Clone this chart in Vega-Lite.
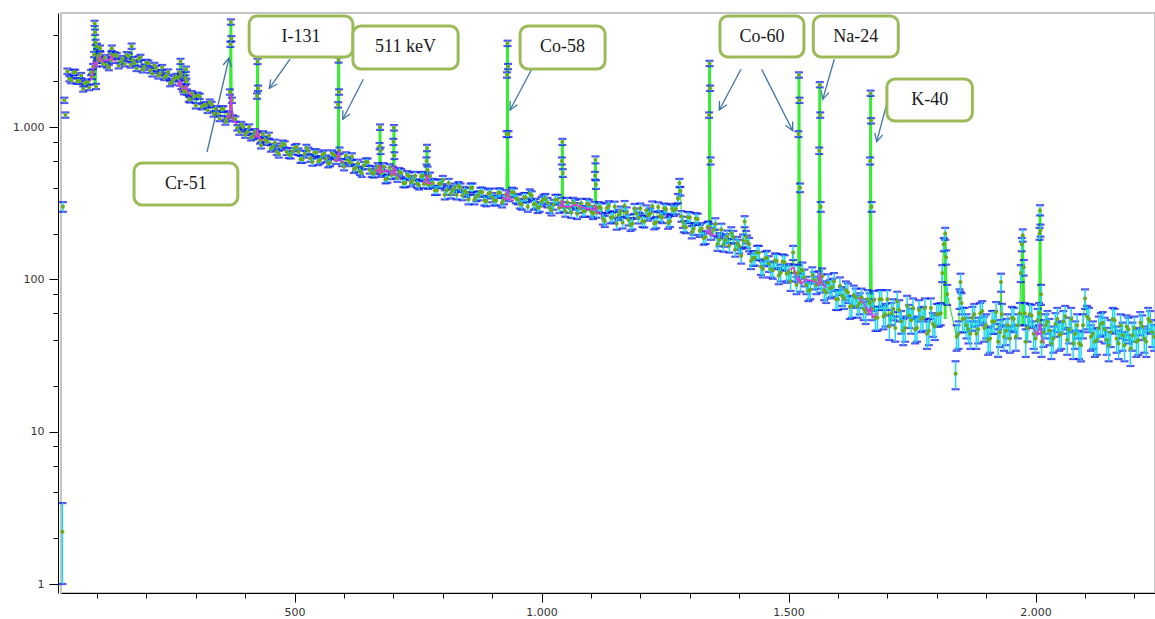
{
"$schema": "https://vega.github.io/schema/vega-lite/v6.json",
"width": 1094,
"height": 580,
"autosize": "none",
"padding": {"left": 61, "top": 13, "right": 0, "bottom": 26},
"background": "white",
"config": {"view": {"stroke": "#C4C4C4", "strokeWidth": 2}},
"datasets": {
"spec": [
{"c":30,"n":2.2,"e":1.2},{"c":31,"n":300,"e":22},{"c":34,"n":1500,"e":60},{"c":36,"n":1200,"e":48},
{"c":40,"n":2330,"e":93},{"c":48,"n":2020,"e":81},{"c":56,"n":2290,"e":92},{"c":64,"n":2010,"e":80},{"c":72,"n":1780,"e":71},{"c":80,"n":1980,"e":79},{"c":88,"n":2280,"e":91},
{"c":90,"n":2150,"e":86},{"c":92,"n":2500,"e":100},{"c":94,"n":3000,"e":120},{"c":95,"n":4800,"e":192},{"c":96,"n":4200,"e":168},{"c":97,"n":3600,"e":144},{"c":98,"n":1850,"e":74},{"c":99,"n":2600,"e":104},{"c":100,"n":3400,"e":136},{"c":101,"n":2900,"e":116},{"c":102,"n":2750,"e":110},{"c":104,"n":2800,"e":112},{"c":106,"n":3300,"e":132},{"c":107,"n":3000,"e":120},{"c":108,"n":2750,"e":110},
{"c":112,"n":2610,"e":104},{"c":120,"n":2560,"e":102},{"c":128,"n":2750,"e":110},{"c":129,"n":3000,"e":120},{"c":130,"n":3300,"e":132},{"c":131,"n":2900,"e":116},{"c":136,"n":2980,"e":119},{"c":144,"n":2530,"e":101},{"c":152,"n":2820,"e":113},{"c":160,"n":2990,"e":120},{"c":168,"n":2560,"e":102},{"c":170,"n":3400,"e":136},{"c":176,"n":2640,"e":106},{"c":184,"n":2800,"e":112},{"c":192,"n":2380,"e":95},{"c":200,"n":2660,"e":106},{"c":208,"n":2360,"e":94},{"c":216,"n":2540,"e":102},{"c":224,"n":2170,"e":87},{"c":232,"n":2460,"e":98},{"c":240,"n":2180,"e":87},{"c":248,"n":1930,"e":77},{"c":256,"n":2070,"e":83},{"c":264,"n":2110,"e":84},
{"c":267,"n":1950,"e":78},{"c":268,"n":2300,"e":92},{"c":269,"n":2700,"e":108},{"c":270,"n":2200,"e":88},{"c":271,"n":1850,"e":74},{"c":276,"n":1710,"e":68},{"c":278,"n":1800,"e":72},{"c":279,"n":2100,"e":84},{"c":280,"n":2400,"e":96},{"c":281,"n":2000,"e":80},{"c":282,"n":1700,"e":68},
{"c":288,"n":1510,"e":60},{"c":296,"n":1590,"e":64},{"c":304,"n":1620,"e":65},{"c":312,"n":1360,"e":54},{"c":320,"n":1400,"e":56},{"c":328,"n":1460,"e":58},{"c":336,"n":1220,"e":49},{"c":344,"n":1230,"e":49},{"c":352,"n":1310,"e":52},{"c":360,"n":1080,"e":43},{"c":366,"n":1220,"e":49},
{"c":368,"n":1200,"e":48},{"c":369,"n":1700,"e":68},{"c":370,"n":3500,"e":140},{"c":371,"n":4900,"e":196},{"c":372,"n":3800,"e":152},{"c":373,"n":1500,"e":60},{"c":375,"n":1150,"e":46},
{"c":384,"n":990,"e":41},{"c":392,"n":1040,"e":42},{"c":400,"n":890,"e":39},{"c":408,"n":1000,"e":41},{"c":416,"n":870,"e":38},
{"c":423,"n":900,"e":39},{"c":424,"n":1600,"e":64},{"c":425,"n":2700,"e":108},{"c":426,"n":1800,"e":72},{"c":427,"n":880,"e":39},
{"c":432,"n":760,"e":36},{"c":440,"n":830,"e":37},{"c":448,"n":880,"e":39},{"c":456,"n":740,"e":35},{"c":464,"n":690,"e":34},{"c":472,"n":745,"e":35},{"c":480,"n":770,"e":36},{"c":488,"n":660,"e":33},{"c":496,"n":695,"e":34},{"c":504,"n":740,"e":35},{"c":512,"n":615,"e":32},{"c":520,"n":665,"e":34},{"c":528,"n":700,"e":34},{"c":536,"n":590,"e":32},{"c":544,"n":680,"e":34},{"c":552,"n":610,"e":32},{"c":560,"n":670,"e":34},{"c":568,"n":575,"e":31},{"c":576,"n":670,"e":34},{"c":584,"n":605,"e":32},
{"c":587,"n":640,"e":33},{"c":588,"n":1400,"e":56},{"c":589,"n":2760,"e":110},{"c":590,"n":1700,"e":68},{"c":591,"n":700,"e":34},
{"c":600,"n":550,"e":30},{"c":608,"n":605,"e":32},{"c":616,"n":640,"e":33},{"c":624,"n":540,"e":30},{"c":632,"n":515,"e":30},{"c":640,"n":560,"e":31},{"c":648,"n":590,"e":32},{"c":656,"n":500,"e":29},{"c":664,"n":520,"e":30},
{"c":671,"n":530,"e":30},{"c":672,"n":750,"e":36},{"c":673,"n":1000,"e":41},{"c":674,"n":700,"e":34},{"c":675,"n":500,"e":29},
{"c":680,"n":550,"e":30},{"c":688,"n":460,"e":28},{"c":696,"n":485,"e":29},
{"c":699,"n":520,"e":30},{"c":700,"n":800,"e":37},{"c":701,"n":990,"e":41},{"c":702,"n":650,"e":33},{"c":703,"n":490,"e":29},
{"c":712,"n":510,"e":29},{"c":720,"n":430,"e":27},{"c":728,"n":485,"e":29},{"c":736,"n":435,"e":27},{"c":744,"n":480,"e":28},{"c":752,"n":415,"e":26},{"c":760,"n":480,"e":28},
{"c":766,"n":450,"e":28},{"c":767,"n":600,"e":32},{"c":768,"n":730,"e":35},{"c":769,"n":520,"e":30},{"c":770,"n":420,"e":27},
{"c":776,"n":425,"e":27},{"c":784,"n":385,"e":26},{"c":792,"n":425,"e":27},{"c":800,"n":450,"e":28},{"c":808,"n":385,"e":26},{"c":816,"n":365,"e":25},{"c":824,"n":400,"e":26},{"c":832,"n":410,"e":26},{"c":840,"n":355,"e":24},{"c":848,"n":372,"e":25},{"c":856,"n":400,"e":26},{"c":864,"n":335,"e":24},{"c":872,"n":355,"e":24},{"c":880,"n":375,"e":25},{"c":888,"n":325,"e":23},{"c":896,"n":370,"e":25},{"c":904,"n":330,"e":24},{"c":912,"n":370,"e":25},{"c":920,"n":320,"e":23},
{"c":928,"n":360,"e":25},{"c":929,"n":900,"e":39},{"c":930,"n":2200,"e":88},{"c":931,"n":3550,"e":142},{"c":932,"n":2500,"e":100},{"c":933,"n":900,"e":39},{"c":934,"n":350,"e":24},
{"c":944,"n":370,"e":25},{"c":952,"n":335,"e":24},{"c":960,"n":310,"e":23},{"c":968,"n":345,"e":24},{"c":976,"n":365,"e":25},{"c":984,"n":310,"e":23},{"c":992,"n":295,"e":22},{"c":1000,"n":325,"e":23},{"c":1008,"n":340,"e":24},{"c":1016,"n":295,"e":22},{"c":1024,"n":310,"e":23},{"c":1032,"n":335,"e":24},
{"c":1040,"n":320,"e":23},{"c":1041,"n":600,"e":32},{"c":1042,"n":800,"e":37},{"c":1043,"n":500,"e":29},{"c":1044,"n":300,"e":22},
{"c":1048,"n":280,"e":22},{"c":1056,"n":295,"e":22},{"c":1064,"n":320,"e":23},{"c":1072,"n":270,"e":21},{"c":1080,"n":315,"e":23},{"c":1088,"n":280,"e":22},{"c":1096,"n":310,"e":23},{"c":1104,"n":270,"e":21},
{"c":1107,"n":300,"e":22},{"c":1108,"n":480,"e":28},{"c":1109,"n":610,"e":32},{"c":1110,"n":420,"e":27},{"c":1111,"n":275,"e":21},
{"c":1120,"n":294,"e":22},{"c":1128,"n":241,"e":20},{"c":1136,"n":303,"e":23},{"c":1144,"n":257,"e":21},{"c":1152,"n":232,"e":20},{"c":1160,"n":279,"e":22},{"c":1168,"n":304,"e":23},{"c":1176,"n":246,"e":20},{"c":1184,"n":233,"e":20},{"c":1192,"n":271,"e":21},{"c":1200,"n":293,"e":22},{"c":1208,"n":239,"e":20},{"c":1216,"n":264,"e":21},{"c":1224,"n":302,"e":23},{"c":1232,"n":237,"e":20},{"c":1240,"n":260,"e":21},{"c":1248,"n":293,"e":22},{"c":1256,"n":235,"e":20},{"c":1264,"n":291,"e":22},
{"c":1272,"n":290,"e":22},{"c":1276,"n":340,"e":24},{"c":1279,"n":430,"e":27},{"c":1281,"n":380,"e":25},{"c":1283,"n":260,"e":21},
{"c":1288,"n":223,"e":19},{"c":1296,"n":256,"e":21},{"c":1304,"n":205,"e":19},{"c":1312,"n":251,"e":21},{"c":1320,"n":209,"e":19},{"c":1328,"n":187,"e":18},{"c":1336,"n":220,"e":19},
{"c":1338,"n":220,"e":19},{"c":1339,"n":1200,"e":48},{"c":1340,"n":2620,"e":105},{"c":1341,"n":1800,"e":72},{"c":1342,"n":600,"e":32},{"c":1343,"n":200,"e":18},
{"c":1352,"n":232,"e":20},{"c":1360,"n":183,"e":18},{"c":1368,"n":169,"e":17},{"c":1376,"n":191,"e":18},{"c":1384,"n":202,"e":18},{"c":1392,"n":157,"e":16},{"c":1400,"n":165,"e":17},
{"c":1408,"n":180,"e":17},{"c":1411,"n":240,"e":20},{"c":1414,"n":190,"e":18},
{"c":1416,"n":177,"e":17},{"c":1424,"n":132,"e":15},{"c":1432,"n":138,"e":15},{"c":1440,"n":150,"e":16},{"c":1448,"n":117,"e":14},{"c":1456,"n":139,"e":15},{"c":1464,"n":117,"e":14},{"c":1472,"n":133,"e":15},{"c":1480,"n":106,"e":13},{"c":1488,"n":131,"e":15},{"c":1496,"n":109,"e":14},{"c":1504,"n":97,"e":13},{"c":1509,"n":150,"e":16},{"c":1512,"n":111,"e":14},
{"c":1519,"n":110,"e":14},{"c":1520,"n":900,"e":39},{"c":1521,"n":2200,"e":88},{"c":1522,"n":1500,"e":60},{"c":1523,"n":400,"e":26},{"c":1524,"n":96,"e":13},
{"c":1528,"n":115,"e":14},{"c":1536,"n":92,"e":12},{"c":1544,"n":86,"e":12},{"c":1552,"n":99,"e":13},
{"c":1561,"n":100,"e":13},{"c":1562,"n":700,"e":34},{"c":1563,"n":1900,"e":76},{"c":1564,"n":1200,"e":48},{"c":1565,"n":300,"e":22},{"c":1566,"n":95,"e":13},
{"c":1568,"n":105,"e":13},{"c":1576,"n":82,"e":12},{"c":1584,"n":87,"e":12},{"c":1592,"n":97,"e":13},{"c":1600,"n":74,"e":11},{"c":1608,"n":78,"e":11},{"c":1616,"n":85,"e":12},{"c":1624,"n":66,"e":11},{"c":1632,"n":79,"e":12},{"c":1640,"n":67,"e":11},{"c":1648,"n":76,"e":11},{"c":1656,"n":61,"e":10},
{"c":1664,"n":70,"e":11},{"c":1665,"n":600,"e":32},{"c":1666,"n":1670,"e":67},{"c":1667,"n":1100,"e":44},{"c":1668,"n":300,"e":22},{"c":1669,"n":64,"e":10},
{"c":1672,"n":73,"e":11},{"c":1680,"n":56,"e":10},{"c":1688,"n":74,"e":11},{"c":1696,"n":59,"e":10},{"c":1704,"n":49,"e":9},{"c":1712,"n":64,"e":10},{"c":1720,"n":72,"e":11},{"c":1728,"n":53,"e":9},{"c":1736,"n":48,"e":9},{"c":1744,"n":58,"e":10},{"c":1752,"n":65,"e":10},{"c":1760,"n":48,"e":9},{"c":1768,"n":55,"e":10},{"c":1776,"n":65,"e":10},{"c":1784,"n":46,"e":9},{"c":1792,"n":51,"e":9},{"c":1800,"n":59,"e":10},
{"c":1808,"n":60,"e":10},{"c":1811,"n":110,"e":14},{"c":1814,"n":170,"e":17},{"c":1817,"n":200,"e":18},{"c":1819,"n":140,"e":15},{"c":1821,"n":80,"e":12},
{"c":1838,"n":24,"e":5},{"c":1840,"n":42,"e":8},{"c":1846,"n":75,"e":11},{"c":1848,"n":96,"e":13},{"c":1850,"n":70,"e":11},
{"c":1856,"n":55,"e":10},{"c":1864,"n":47,"e":9},{"c":1872,"n":56,"e":10},{"c":1880,"n":44,"e":9},{"c":1888,"n":60,"e":10},{"c":1896,"n":48,"e":9},{"c":1904,"n":40,"e":8},{"c":1912,"n":53,"e":9},{"c":1920,"n":61,"e":10},{"c":1928,"n":45,"e":9},{"c":1930,"n":96,"e":13},{"c":1936,"n":42,"e":8},{"c":1944,"n":50,"e":9},{"c":1952,"n":56,"e":10},{"c":1960,"n":42,"e":8},
{"c":1968,"n":60,"e":10},{"c":1970,"n":110,"e":14},{"c":1972,"n":170,"e":17},{"c":1974,"n":195,"e":18},{"c":1976,"n":120,"e":14},{"c":1978,"n":60,"e":10},
{"c":1984,"n":48,"e":9},{"c":1992,"n":58,"e":10},{"c":2000,"n":41,"e":8},
{"c":2007,"n":60,"e":10},{"c":2008,"n":200,"e":18},{"c":2009,"n":285,"e":22},{"c":2010,"n":210,"e":19},{"c":2011,"n":80,"e":12},
{"c":2016,"n":45,"e":9},{"c":2024,"n":53,"e":9},{"c":2032,"n":38,"e":8},{"c":2040,"n":51,"e":9},{"c":2048,"n":43,"e":9},{"c":2056,"n":53,"e":9},{"c":2064,"n":40,"e":8},{"c":2072,"n":55,"e":10},{"c":2080,"n":44,"e":9},{"c":2088,"n":38,"e":8},{"c":2096,"n":50,"e":9},{"c":2100,"n":75,"e":11},{"c":2104,"n":57,"e":10},{"c":2112,"n":42,"e":8},{"c":2120,"n":39,"e":8},{"c":2128,"n":48,"e":9},{"c":2136,"n":52,"e":9},{"c":2144,"n":40,"e":8},{"c":2152,"n":45,"e":9},{"c":2160,"n":54,"e":10},{"c":2168,"n":38,"e":8},{"c":2176,"n":43,"e":9},{"c":2184,"n":49,"e":9},{"c":2192,"n":35,"e":8},{"c":2200,"n":48,"e":9},{"c":2208,"n":40,"e":8},{"c":2216,"n":49,"e":9},{"c":2224,"n":39,"e":8},{"c":2232,"n":53,"e":9},{"c":2240,"n":42,"e":8},
{"c":44,"n":2080,"e":83},{"c":52,"n":2280,"e":91},{"c":60,"n":2000,"e":80},{"c":68,"n":2180,"e":87},{"c":76,"n":1930,"e":77},{"c":84,"n":1820,"e":73},{"c":116,"n":2860,"e":114},{"c":124,"n":2460,"e":98},{"c":140,"n":2940,"e":118},{"c":148,"n":2700,"e":108},{"c":156,"n":2610,"e":104},{"c":164,"n":2930,"e":117},{"c":172,"n":2770,"e":111},{"c":180,"n":2430,"e":97},{"c":188,"n":2870,"e":115},{"c":196,"n":2480,"e":99},{"c":204,"n":2630,"e":105},{"c":212,"n":2240,"e":90},{"c":220,"n":2430,"e":97},{"c":228,"n":2270,"e":91},{"c":236,"n":2120,"e":85},{"c":244,"n":2300,"e":92},{"c":252,"n":1980,"e":79},{"c":260,"n":2150,"e":86},{"c":274,"n":1780,"e":71},{"c":286,"n":1530,"e":61},{"c":292,"n":1660,"e":66},{"c":300,"n":1380,"e":55},{"c":308,"n":1590,"e":64},{"c":316,"n":1390,"e":56},{"c":324,"n":1290,"e":52},{"c":332,"n":1410,"e":56},{"c":340,"n":1320,"e":53},{"c":348,"n":1140,"e":46},{"c":356,"n":1320,"e":53},{"c":362,"n":1130,"e":45},
{"c":380,"n":1130,"e":45},{"c":388,"n":930,"e":40},{"c":396,"n":1000,"e":41},{"c":404,"n":930,"e":40},{"c":412,"n":855,"e":38},{"c":420,"n":930,"e":40},{"c":430,"n":815,"e":37},{"c":436,"n":900,"e":39},{"c":444,"n":800,"e":37},{"c":452,"n":725,"e":35},{"c":460,"n":790,"e":37},{"c":468,"n":665,"e":34},{"c":476,"n":780,"e":36},{"c":484,"n":690,"e":34},{"c":492,"n":655,"e":33},{"c":500,"n":730,"e":35},{"c":508,"n":690,"e":34},{"c":516,"n":615,"e":32},{"c":524,"n":730,"e":35},{"c":532,"n":625,"e":33},{"c":540,"n":680,"e":34},{"c":548,"n":595,"e":32},{"c":556,"n":655,"e":33},{"c":564,"n":620,"e":32},{"c":572,"n":585,"e":31},{"c":580,"n":655,"e":33},{"c":596,"n":585,"e":31},{"c":604,"n":650,"e":33},{"c":612,"n":585,"e":31},{"c":620,"n":530,"e":30},{"c":628,"n":580,"e":31},{"c":636,"n":500,"e":29},{"c":644,"n":590,"e":32},{"c":652,"n":525,"e":30},{"c":660,"n":495,"e":29},{"c":668,"n":550,"e":30},{"c":678,"n":515,"e":30},{"c":684,"n":455,"e":28},{"c":692,"n":540,"e":30},
{"c":708,"n":465,"e":28},{"c":716,"n":500,"e":29},{"c":724,"n":430,"e":27},{"c":732,"n":475,"e":28},{"c":740,"n":450,"e":28},{"c":748,"n":425,"e":27},{"c":756,"n":475,"e":28},{"c":762,"n":425,"e":27},{"c":774,"n":475,"e":28},{"c":780,"n":430,"e":27},{"c":788,"n":385,"e":26},{"c":796,"n":425,"e":27},{"c":804,"n":360,"e":25},{"c":812,"n":430,"e":27},{"c":820,"n":385,"e":26},{"c":828,"n":360,"e":25},{"c":836,"n":400,"e":26},{"c":844,"n":380,"e":25},{"c":852,"n":335,"e":24},{"c":860,"n":400,"e":26},{"c":868,"n":350,"e":24},{"c":876,"n":375,"e":25},{"c":884,"n":330,"e":24},{"c":892,"n":365,"e":25},{"c":900,"n":345,"e":24},{"c":908,"n":330,"e":24},{"c":916,"n":370,"e":25},{"c":924,"n":335,"e":24},
{"c":940,"n":375,"e":25},{"c":948,"n":340,"e":24},{"c":956,"n":315,"e":23},{"c":964,"n":345,"e":24},{"c":972,"n":300,"e":22},{"c":980,"n":355,"e":24},{"c":988,"n":315,"e":23},{"c":996,"n":300,"e":22},{"c":1004,"n":335,"e":24},{"c":1012,"n":320,"e":23},{"c":1020,"n":285,"e":22},{"c":1028,"n":335,"e":24},{"c":1036,"n":295,"e":22},{"c":1052,"n":320,"e":23},{"c":1060,"n":275,"e":22},{"c":1068,"n":310,"e":23},{"c":1076,"n":295,"e":22},{"c":1084,"n":280,"e":22},{"c":1092,"n":315,"e":23},{"c":1100,"n":280,"e":22},{"c":1116,"n":300,"e":22},
{"c":1124,"n":250,"e":21},{"c":1132,"n":294,"e":22},{"c":1140,"n":254,"e":21},{"c":1148,"n":301,"e":23},{"c":1156,"n":266,"e":21},{"c":1164,"n":236,"e":20},{"c":1172,"n":275,"e":22},{"c":1180,"n":228,"e":20},{"c":1188,"n":291,"e":22},{"c":1196,"n":254,"e":21},{"c":1204,"n":241,"e":20},{"c":1212,"n":284,"e":22},{"c":1220,"n":272,"e":21},{"c":1228,"n":233,"e":20},{"c":1236,"n":299,"e":22},{"c":1244,"n":255,"e":21},{"c":1252,"n":289,"e":22},{"c":1260,"n":241,"e":20},{"c":1268,"n":283,"e":22},
{"c":1286,"n":238,"e":20},{"c":1292,"n":220,"e":19},{"c":1300,"n":255,"e":21},{"c":1308,"n":215,"e":19},{"c":1316,"n":249,"e":21},{"c":1324,"n":215,"e":19},{"c":1332,"n":189,"e":18},{"c":1348,"n":212,"e":19},{"c":1356,"n":171,"e":17},{"c":1364,"n":213,"e":19},{"c":1372,"n":181,"e":17},{"c":1380,"n":167,"e":17},{"c":1388,"n":190,"e":18},{"c":1396,"n":173,"e":17},{"c":1404,"n":143,"e":16},{"c":1420,"n":170,"e":17},{"c":1428,"n":138,"e":15},{"c":1436,"n":150,"e":16},{"c":1444,"n":121,"e":14},{"c":1452,"n":137,"e":15},{"c":1460,"n":127,"e":15},{"c":1468,"n":115,"e":14},{"c":1476,"n":132,"e":15},{"c":1484,"n":111,"e":14},{"c":1492,"n":129,"e":15},{"c":1500,"n":112,"e":14},{"c":1516,"n":92,"e":12},
{"c":1532,"n":103,"e":13},{"c":1540,"n":84,"e":12},{"c":1548,"n":107,"e":13},{"c":1556,"n":92,"e":12},{"c":1572,"n":85,"e":12},{"c":1580,"n":95,"e":13},{"c":1588,"n":89,"e":12},{"c":1596,"n":74,"e":11},{"c":1604,"n":91,"e":12},{"c":1612,"n":75,"e":11},{"c":1620,"n":82,"e":12},{"c":1628,"n":67,"e":11},{"c":1636,"n":76,"e":11},{"c":1644,"n":70,"e":11},{"c":1652,"n":64,"e":10},{"c":1660,"n":74,"e":11},
{"c":1676,"n":56,"e":10},{"c":1684,"n":74,"e":11},{"c":1692,"n":57,"e":10},{"c":1700,"n":74,"e":11},{"c":1708,"n":60,"e":10},{"c":1716,"n":48,"e":9},{"c":1724,"n":63,"e":10},{"c":1732,"n":46,"e":9},{"c":1740,"n":67,"e":11},{"c":1748,"n":54,"e":10},{"c":1756,"n":47,"e":9},{"c":1764,"n":63,"e":10},{"c":1772,"n":56,"e":10},{"c":1780,"n":44,"e":9},{"c":1788,"n":65,"e":10},{"c":1796,"n":49,"e":9},{"c":1804,"n":59,"e":10},
{"c":1844,"n":44,"e":9},{"c":1852,"n":55,"e":10},{"c":1860,"n":50,"e":9},{"c":1868,"n":44,"e":9},{"c":1876,"n":59,"e":10},{"c":1884,"n":47,"e":9},{"c":1892,"n":62,"e":10},{"c":1900,"n":50,"e":9},{"c":1908,"n":41,"e":8},{"c":1916,"n":53,"e":9},{"c":1924,"n":39,"e":8},{"c":1932,"n":59,"e":10},{"c":1940,"n":46,"e":9},{"c":1948,"n":41,"e":8},{"c":1956,"n":55,"e":10},{"c":1964,"n":50,"e":9},{"c":1980,"n":39,"e":8},{"c":1988,"n":59,"e":10},{"c":1996,"n":44,"e":9},{"c":2004,"n":54,"e":10},
{"c":2012,"n":39,"e":8},{"c":2020,"n":50,"e":9},{"c":2028,"n":46,"e":9},{"c":2036,"n":41,"e":8},{"c":2044,"n":55,"e":10},{"c":2052,"n":44,"e":9},{"c":2060,"n":57,"e":10},{"c":2068,"n":47,"e":9},{"c":2076,"n":38,"e":8},{"c":2084,"n":50,"e":9},{"c":2092,"n":37,"e":8},{"c":2108,"n":55,"e":10},{"c":2116,"n":44,"e":9},{"c":2124,"n":40,"e":8},{"c":2132,"n":51,"e":9},{"c":2140,"n":47,"e":9},{"c":2148,"n":37,"e":8},{"c":2156,"n":55,"e":10},{"c":2164,"n":41,"e":8},{"c":2172,"n":50,"e":9},{"c":2180,"n":37,"e":8},{"c":2188,"n":47,"e":9},{"c":2196,"n":43,"e":9},{"c":2204,"n":39,"e":8},{"c":2212,"n":52,"e":9},{"c":2220,"n":41,"e":8},{"c":2228,"n":55,"e":10},{"c":2236,"n":45,"e":9}
],
"peaks": [
{"c":96,"lo":1850,"hi":4800},{"c":129,"lo":2750,"hi":3300},{"c":269,"lo":1900,"hi":2700},{"c":280,"lo":1750,"hi":2400},{"c":371,"lo":1150,"hi":4900},{"c":425,"lo":880,"hi":2700},{"c":589,"lo":640,"hi":2760},{"c":673,"lo":520,"hi":1000},{"c":701,"lo":500,"hi":990},{"c":768,"lo":440,"hi":730},{"c":931,"lo":350,"hi":3550},{"c":1042,"lo":310,"hi":800},{"c":1109,"lo":285,"hi":610},{"c":1340,"lo":210,"hi":2620},{"c":1521,"lo":100,"hi":2200},{"c":1563,"lo":95,"hi":1900},{"c":1666,"lo":66,"hi":1670},{"c":1817,"lo":55,"hi":200},{"c":1974,"lo":50,"hi":195},{"c":2009,"lo":50,"hi":285}
],
"lines": [
{"c":96,"top":4500},{"c":106,"top":3300},{"c":129,"top":2800},{"c":268,"top":1900},{"c":280,"top":1750},{"c":371,"top":1650},{"c":425,"top":950},{"c":589,"top":750},{"c":673,"top":550},{"c":701,"top":530},{"c":768,"top":460},{"c":931,"top":900},{"c":1042,"top":320},{"c":1109,"top":300},{"c":1340,"top":820},{"c":1521,"top":800},{"c":1563,"top":700},{"c":1666,"top":600},{"c":2009,"top":285}
],
"fit": [
{"g":1,"c":86,"n":2000},{"g":1,"c":92,"n":2250},{"g":1,"c":95,"n":2700},{"g":1,"c":98,"n":2500},{"g":1,"c":102,"n":2750},{"g":1,"c":106,"n":2950},{"g":1,"c":110,"n":2700},{"g":1,"c":120,"n":2750},{"g":1,"c":127,"n":2800},{"g":1,"c":129,"n":2950},{"g":1,"c":133,"n":2750},{"g":1,"c":140,"n":2700},
{"g":2,"c":262,"n":1900},{"g":2,"c":266,"n":1880},{"g":2,"c":268,"n":2050},{"g":2,"c":272,"n":1800},{"g":2,"c":278,"n":1780},{"g":2,"c":280,"n":1900},{"g":2,"c":284,"n":1700},{"g":2,"c":292,"n":1600},
{"g":3,"c":362,"n":1180},{"g":3,"c":368,"n":1150},{"g":3,"c":370,"n":1450},{"g":3,"c":371,"n":1650},{"g":3,"c":373,"n":1300},{"g":3,"c":376,"n":1100},{"g":3,"c":384,"n":1050},
{"g":4,"c":417,"n":880},{"g":4,"c":423,"n":860},{"g":4,"c":425,"n":980},{"g":4,"c":427,"n":860},{"g":4,"c":436,"n":820},
{"g":5,"c":579,"n":610},{"g":5,"c":586,"n":600},{"g":5,"c":589,"n":700},{"g":5,"c":592,"n":600},{"g":5,"c":600,"n":590},
{"g":6,"c":664,"n":530},{"g":6,"c":671,"n":500},{"g":6,"c":673,"n":570},{"g":6,"c":676,"n":505},{"g":6,"c":688,"n":520},{"g":6,"c":699,"n":490},{"g":6,"c":701,"n":560},{"g":6,"c":704,"n":495},{"g":6,"c":712,"n":470},
{"g":7,"c":760,"n":440},{"g":7,"c":766,"n":430},{"g":7,"c":768,"n":490},{"g":7,"c":771,"n":430},{"g":7,"c":778,"n":425},
{"g":8,"c":921,"n":345},{"g":8,"c":928,"n":335},{"g":8,"c":931,"n":390},{"g":8,"c":934,"n":335},{"g":8,"c":944,"n":330},
{"g":9,"c":1035,"n":305},{"g":9,"c":1040,"n":300},{"g":9,"c":1042,"n":335},{"g":9,"c":1045,"n":300},{"g":9,"c":1056,"n":300},{"g":9,"c":1070,"n":310},{"g":9,"c":1085,"n":295},{"g":9,"c":1100,"n":290},{"g":9,"c":1107,"n":285},{"g":9,"c":1109,"n":310},{"g":9,"c":1112,"n":275},{"g":9,"c":1120,"n":270},
{"g":10,"c":1330,"n":212},{"g":10,"c":1337,"n":200},{"g":10,"c":1340,"n":220},{"g":10,"c":1343,"n":195},{"g":10,"c":1352,"n":195},
{"g":11,"c":1500,"n":115},{"g":11,"c":1510,"n":120},{"g":11,"c":1519,"n":97},{"g":11,"c":1521,"n":102},{"g":11,"c":1526,"n":93},{"g":11,"c":1534,"n":100},{"g":11,"c":1545,"n":98},{"g":11,"c":1556,"n":96},{"g":11,"c":1561,"n":92},{"g":11,"c":1563,"n":112},{"g":11,"c":1567,"n":95},{"g":11,"c":1576,"n":88},
{"g":12,"c":1640,"n":76},{"g":12,"c":1652,"n":70},{"g":12,"c":1663,"n":60},{"g":12,"c":1666,"n":66},{"g":12,"c":1670,"n":56},{"g":12,"c":1680,"n":60},
{"g":13,"c":1996,"n":48},{"g":13,"c":2003,"n":43},{"g":13,"c":2007,"n":47},{"g":13,"c":2009,"n":52},{"g":13,"c":2012,"n":42},{"g":13,"c":2018,"n":38}
],
"boxes": [
{"label":"I-131","c":408,"c2":618,"n":5364,"n2":2886,"tc":513,"tn":3906},
{"label":"511 keV","c":618,"c2":831,"n":4613,"n2":2407,"tc":724.5,"tn":3332},
{"label":"Co-58","c":956.5,"c2":1128.5,"n":4613,"n2":2407,"tc":1042.5,"tn":3332},
{"label":"Co-60","c":1361,"c2":1531,"n":5364,"n2":2886,"tc":1446,"tn":3906},
{"label":"Na-24","c":1550,"c2":1722,"n":5364,"n2":2886,"tc":1636,"tn":3906},
{"label":"K-40","c":1699,"c2":1872,"n":2070,"n2":1097,"tc":1785.5,"tn":1507},
{"label":"Cr-51","c":175,"c2":385,"n":581,"n2":308,"tc":280,"tn":423}
],
"arrows": [
{"c":322.7,"n":686.5,"c2":367.2,"n2":2843},
{"c":490.7,"n":2799,"c2":448.8,"n2":1798},
{"c":639.1,"n":2060,"c2":597.4,"n2":1125},
{"c":980,"n":2396,"c2":936,"n2":1295},
{"c":1403.6,"n":2396,"c2":1359.7,"n2":1295},
{"c":1445.5,"n":2396,"c2":1508.3,"n2":947},
{"c":1592.5,"n":2788,"c2":1569,"n2":1522},
{"c":1699.8,"n":1468,"c2":1678.3,"n2":802}
]
},
"encoding": {
"x": {"field": "c", "type": "quantitative", "scale": {"domain": [27.1, 2241.7], "nice": false, "zero": false},
  "axis": {"title": null, "grid": false, "values": [100,200,300,400,500,600,700,800,900,1000,1100,1200,1300,1400,1500,1600,1700,1800,1900,2000,2100,2200],
    "labelExpr": "datum.value % 500 === 0 ? replace(format(datum.value, ','), ',', '.') : ''",
    "tickSize": {"condition": {"test": "datum.value % 500 === 0", "value": 9}, "value": 5},
    "domainColor": "#000000", "tickColor": "#000000", "labelFont": "DejaVu Sans", "labelFontSize": 11, "labelColor": "#333333", "labelPadding": 4, "labelOverlap": false, "labelFlush": false}},
"y": {"field": "n", "type": "quantitative", "scale": {"type": "log", "domain": [0.873, 5613], "nice": false},
  "axis": {"title": null, "grid": false, "offset": 3, "values": [1,2,4,6,8,10,20,40,60,80,100,200,400,600,800,1000,2000,4000],
    "labelExpr": "(datum.value == 1 || datum.value == 10 || datum.value == 100 || datum.value == 1000) ? replace(format(datum.value, ','), ',', '.') : ''",
    "tickSize": {"condition": {"test": "datum.value == 1 || datum.value == 10 || datum.value == 100 || datum.value == 1000", "value": 9}, "value": 5},
    "domainColor": "#000000", "tickColor": "#000000", "labelFont": "DejaVu Sans", "labelFontSize": 11, "labelColor": "#333333", "labelPadding": 5, "labelOverlap": false, "labelFlush": false}}
},
"layer": [
{"data": {"name": "lines"}, "mark": {"type": "rule", "color": "#FF7373", "strokeWidth": 2},
 "encoding": {"y": {"datum": 1, "type": "quantitative"}, "y2": {"field": "top"}}},
{"data": {"name": "spec"}, "transform": [{"filter": "datum.c >= 38 && datum.c != 1838"}], "mark": {"type": "line", "color": "#2FDC2F", "strokeWidth": 1.1}},
{"data": {"name": "peaks"}, "mark": {"type": "rule", "color": "#33EE33", "strokeWidth": 3},
 "encoding": {"y": {"field": "lo", "type": "quantitative"}, "y2": {"field": "hi"}}},
{"data": {"name": "spec"}, "mark": {"type": "errorbar", "ticks": {"color": "#0B0BEF", "size": 8, "thickness": 2.2}, "rule": {"color": "#1ED6F5", "strokeWidth": 1.5}},
 "encoding": {"yError": {"field": "e"}}},
{"data": {"name": "spec"}, "mark": {"type": "circle", "size": 16, "color": "#6AAA1E", "opacity": 1}},
{"data": {"name": "fit"}, "mark": {"type": "line", "color": "#E036E0", "strokeWidth": 1.5},
 "encoding": {"detail": {"field": "g", "type": "nominal"}}},
{"data": {"name": "arrows"}, "mark": {"type": "rule", "color": "#4273A6", "strokeWidth": 1.3},
 "encoding": {"x2": {"field": "c2"}, "y2": {"field": "n2"}}},
{"data": {"name": "arrows"}, "mark": {"type": "point", "shape": "M-0.55,1.1L0,0L0.55,1.1", "filled": false, "color": "#4273A6", "strokeWidth": 1.3, "size": 220, "opacity": 1,
   "angle": {"expr": "atan2(scale('x', datum.c2) - scale('x', datum.c), scale('y', datum.n) - scale('y', datum.n2)) * 180 / PI"}},
 "encoding": {"x": {"field": "c2", "type": "quantitative"}, "y": {"field": "n2", "type": "quantitative"}}},
{"data": {"name": "boxes"}, "mark": {"type": "rect", "fill": "white", "stroke": "#9BBB59", "strokeWidth": 3, "cornerRadius": 8},
 "encoding": {"x2": {"field": "c2"}, "y2": {"field": "n2"}}},
{"data": {"name": "boxes"}, "mark": {"type": "text", "font": "Liberation Serif", "fontSize": 18, "color": "#1A1A1A", "align": "center", "baseline": "middle"},
 "encoding": {"x": {"field": "tc", "type": "quantitative"}, "y": {"field": "tn", "type": "quantitative"}, "text": {"field": "label"}}}
]
}
